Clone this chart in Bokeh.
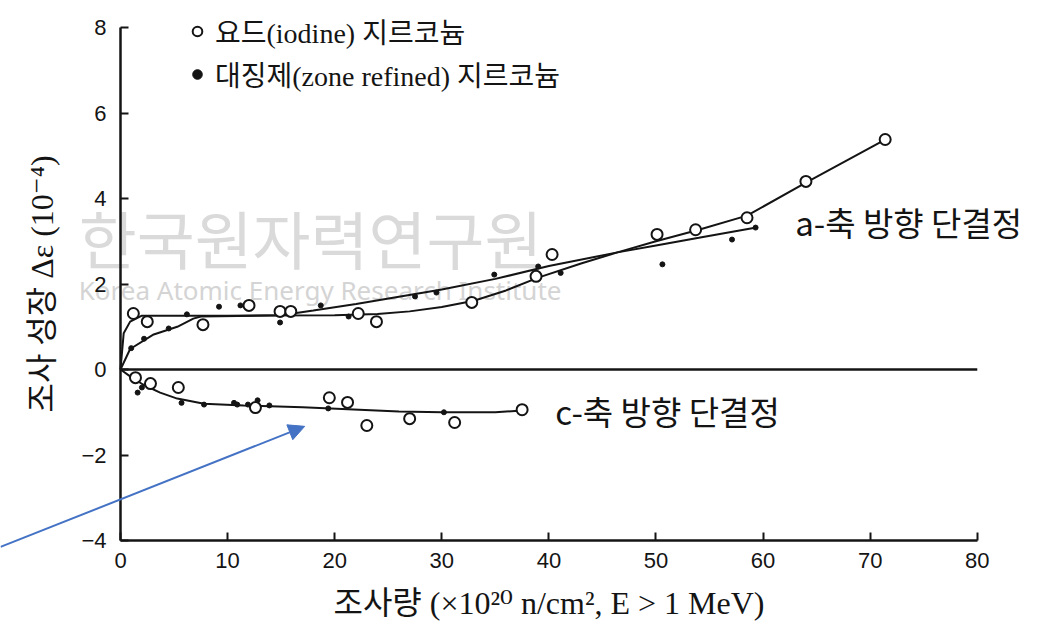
from bokeh.plotting import figure
from bokeh.models import (Range1d, Legend, LegendItem, Label, Arrow, NormalHead,
                          ColumnDataSource, LinearAxis, FixedTicker)
from bokeh.core.properties import value
from bokeh.embed import file_html
from bokeh.resources import INLINE

# ---------------- data ----------------
x_ticks = [0, 10, 20, 30, 40, 50, 60, 70, 80]
y_ticks = [-4, -2, 0, 2, 4, 6, 8]
y_tick_labels = {-4: "\u22124", -2: "\u22122", 0: "0", 2: "2", 4: "4", 6: "6", 8: "8"}

# a-axis single crystal, iodine zirconium (open circles)
iod_a_x = [1.2, 2.5, 7.7, 12.0, 14.9, 15.9, 22.2, 23.9, 32.8, 38.8, 40.3, 50.1, 53.7, 58.5, 64.0, 71.4]
iod_a_y = [1.31, 1.12, 1.05, 1.50, 1.36, 1.36, 1.31, 1.12, 1.57, 2.18, 2.69, 3.16, 3.27, 3.55, 4.40, 5.38]
# a-axis single crystal, zone refined zirconium (dots)
zone_a_x = [1.0, 2.2, 4.5, 6.2, 9.2, 11.2, 14.9, 18.7, 21.3, 27.5, 29.5, 34.9, 39.0, 41.1, 50.6, 57.1, 59.3]
zone_a_y = [0.50, 0.72, 0.96, 1.29, 1.47, 1.50, 1.10, 1.50, 1.24, 1.71, 1.80, 2.22, 2.41, 2.26, 2.46, 3.04, 3.32]
# c-axis single crystal, iodine zirconium (open circles)
iod_c_x = [1.4, 2.8, 5.4, 12.6, 19.5, 21.2, 23.0, 27.0, 31.2, 37.5]
iod_c_y = [-0.19, -0.33, -0.42, -0.89, -0.66, -0.77, -1.31, -1.15, -1.24, -0.94]
# c-axis single crystal, zone refined zirconium (dots)
zone_c_x = [1.6, 2.0, 5.7, 7.8, 10.6, 10.9, 11.9, 12.8, 13.9, 19.4, 30.2]
zone_c_y = [-0.54, -0.42, -0.78, -0.82, -0.78, -0.82, -0.82, -0.72, -0.84, -0.91, -1.00]

# fitted curves
fit_iod_a_x = [0, 0.3, 0.9, 2.0, 10, 20, 24, 27, 30, 33, 36, 39, 43, 46.4, 50, 54, 58.5, 64, 71.4]
fit_iod_a_y = [0, 0.85, 1.12, 1.26, 1.26, 1.27, 1.30, 1.36, 1.46, 1.61, 1.85, 2.15, 2.48, 2.74, 3.00, 3.27, 3.60, 4.37, 5.38]
fit_zone_a_x = [0, 0.9, 3.1, 5.3, 6.8, 7.5, 15, 18, 22, 26, 30, 35, 40, 46.4, 50, 54, 59.5]
fit_zone_a_y = [0, 0.48, 0.82, 1.00, 1.19, 1.24, 1.27, 1.38, 1.53, 1.70, 1.87, 2.12, 2.42, 2.74, 2.90, 3.08, 3.33]
fit_c_x = [0, 0.9, 2.1, 3.7, 5.3, 7.8, 11.5, 17, 26, 30, 35, 37.5]
fit_c_y = [0, -0.16, -0.35, -0.54, -0.68, -0.80, -0.84, -0.88, -0.98, -1.00, -1.00, -0.96]

zero_x = [0, 80]
zero_y = [0, 0]

label_text = ["a-축 방향 단결정", "c-축 방향 단결정"]
label_x = [63.0, 40.6]
label_y = [3.46, -0.98]

legend_labels = ["요드(iodine) 지르코늄", "대징제(zone refined) 지르코늄"]
x_title = "조사량 (×10²⁰ n/cm², E > 1 MeV)"
y_title = "조사 성장 Δε (10⁻⁴)"
watermark_ko = "한국원자력연구원"
watermark_en = "Korea Atomic Energy Research Institute"

# ---------------- figure ----------------
# the frame covers the whole page; the axes sit at fixed data positions
p = figure(width=1057, height=638, output_backend="svg", toolbar_location=None,
           x_range=Range1d(-11.204, 87.49), y_range=Range1d(-6.292, 8.632),
           x_axis_location=None, y_axis_location=None,
           min_border_left=0, min_border_right=0, min_border_top=0, min_border_bottom=0)
p.grid.visible = False
p.outline_line_color = None
p.background_fill_color = "white"
p.border_fill_color = "white"

ink = "#141414"
serif = "'Liberation Serif', 'DejaVu Serif', 'Noto Sans CJK KR'"

# watermark
p.add_layout(Label(x=-3.9, y=3.11, text=watermark_ko, text_baseline="middle",
                   text_font="Noto Sans CJK KR", text_font_size="63px",
                   text_color="#dadada", level="underlay"))
p.add_layout(Label(x=-3.9, y=1.85, text=watermark_en, text_baseline="middle",
                   text_font="Noto Sans", text_font_size="26px",
                   text_color="#d4d4d4", level="underlay"))

# zero line
p.line(zero_x, zero_y, line_color=ink, line_width=2.5)

# fitted curves
p.line(fit_iod_a_x, fit_iod_a_y, line_color=ink, line_width=2)
p.line(fit_zone_a_x, fit_zone_a_y, line_color=ink, line_width=2)
p.line(fit_c_x, fit_c_y, line_color=ink, line_width=2)

# data points
iod_src = ColumnDataSource(dict(x=iod_a_x + iod_c_x, y=iod_a_y + iod_c_y))
zone_src = ColumnDataSource(dict(x=zone_a_x + zone_c_x, y=zone_a_y + zone_c_y))
r_iod = p.scatter("x", "y", source=iod_src, marker="circle", size=11,
                  fill_color="white", line_color=ink, line_width=2)
r_zone = p.scatter("x", "y", source=zone_src, marker="circle", size=5,
                   fill_color=ink, line_color=ink)

# curve labels
p.text(x=label_x, y=label_y, text=label_text, text_font=value("Noto Sans CJK KR"),
       text_font_size="33px", text_baseline="middle", text_align="left", text_color=ink)

# legend
legend = Legend(items=[LegendItem(label=legend_labels[0], renderers=[r_iod]),
                       LegendItem(label=legend_labels[1], renderers=[r_zone])],
                location=(185, 544), orientation="vertical",
                label_text_font=serif, label_text_font_size="28px",
                label_text_color=ink, glyph_width=24, glyph_height=34, label_height=34,
                label_standoff=6, spacing=3, padding=0, margin=0,
                border_line_color=None, background_fill_alpha=0)
p.add_layout(legend)

# blue arrow
blue = "#4472C4"
p.add_layout(Arrow(end=NormalHead(size=16, fill_color=blue, line_color=blue),
                   x_start=-11.2, y_start=-4.15, x_end=17.2, y_end=-1.33,
                   line_color=blue, line_width=2))

# axes
xaxis = LinearAxis(fixed_location=-4, ticker=FixedTicker(ticks=x_ticks), bounds=(0, 80))
yaxis = LinearAxis(fixed_location=0, ticker=FixedTicker(ticks=y_ticks), bounds=(-4, 8))
for ax in (xaxis, yaxis):
    ax.axis_line_width = 2.5
    ax.axis_line_color = ink
    ax.major_tick_line_color = ink
    ax.major_tick_line_width = 2
    ax.major_tick_in = 8
    ax.major_tick_out = 0
    ax.minor_tick_line_color = None
    ax.major_label_text_font = "Liberation Sans"
    ax.major_label_text_font_size = "22px"
    ax.major_label_text_color = ink
    ax.axis_label_text_font = serif
    ax.axis_label_text_font_style = "normal"
    ax.axis_label_text_color = ink

xaxis.major_label_standoff = 12
xaxis.axis_label = x_title
xaxis.axis_label_text_font_size = "32px"
xaxis.axis_label_standoff = 14

yaxis.major_label_overrides = y_tick_labels
yaxis.major_label_standoff = 14
yaxis.axis_label = y_title
yaxis.axis_label_text_font_size = "32px"
yaxis.axis_label_standoff = 18

p.add_layout(xaxis, "below")
p.add_layout(yaxis, "left")

open("out.html", "w").write(file_html(p, INLINE))
